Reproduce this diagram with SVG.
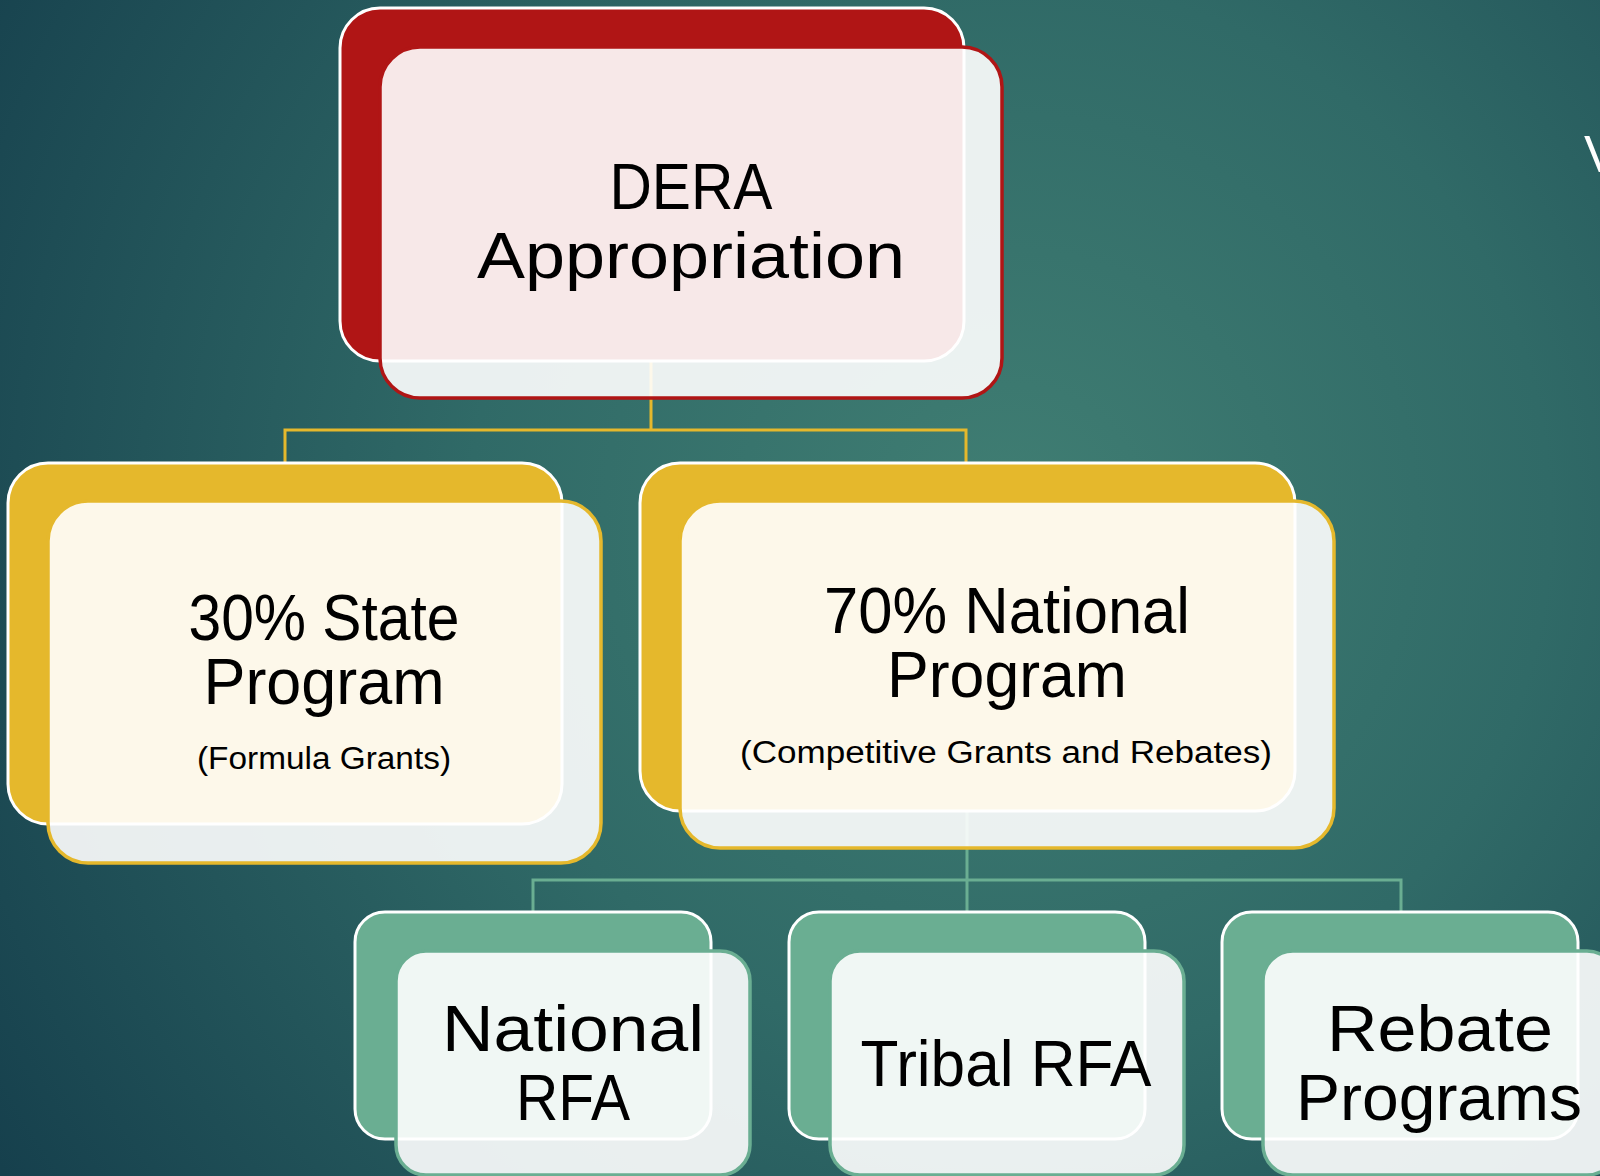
<svg xmlns="http://www.w3.org/2000/svg" width="1600" height="1176" viewBox="0 0 1600 1176">
<defs>
<radialGradient id="bg" gradientUnits="userSpaceOnUse" cx="1010" cy="520" r="1200">
<stop offset="0" stop-color="#407e73"/>
<stop offset="0.45" stop-color="#306a67"/>
<stop offset="1" stop-color="#16404d"/>
</radialGradient>
<style>
.back{stroke:#ffffff;stroke-width:3}
.front{fill:#ffffff;fill-opacity:0.9;stroke-width:3.5}
.red{fill:#b01515}
.yel{fill:#e5b82c}
.grn{fill:#6aae92}
.sred{stroke:#b01515}
.syel{stroke:#e5b82c}
.sgrn{stroke:#6aae92}
text{font-family:"Liberation Sans",Arial,sans-serif;fill:#000;text-anchor:middle}
.big{font-size:64px}
.small{font-size:31px}
.conn{fill:none;stroke-width:3}
</style>
</defs>
<rect x="0" y="0" width="1600" height="1176" fill="url(#bg)"/>
<text x="1584" y="172" style="font-size:52px;fill:#ffffff;text-anchor:start">V</text>

<g id="connectors">
<path class="conn" stroke="#e5b82c" d="M651 361 V430 M285 463 V430 H966 V463"/>
<path class="conn" stroke="#6aae92" d="M967 811 V880 M533 913 V880 H1401 V913 M967 880 V913"/>
</g>

<g id="dera">
<rect class="back red" x="340" y="8" width="624" height="353" rx="40"/>
<rect class="front sred" x="380" y="47" width="622" height="351" rx="40"/>
<text class="big" x="691" y="209" textLength="163" lengthAdjust="spacingAndGlyphs">DERA</text>
<text class="big" x="691" y="278" textLength="428" lengthAdjust="spacingAndGlyphs">Appropriation</text>
</g>

<g id="state">
<rect class="back yel" x="8" y="463" width="554" height="361" rx="40"/>
<rect class="front syel" x="48" y="501" width="553" height="362" rx="40"/>
<text class="big" x="324" y="640" textLength="271" lengthAdjust="spacingAndGlyphs">30% State</text>
<text class="big" x="324" y="704" textLength="241" lengthAdjust="spacingAndGlyphs">Program</text>
<text class="small" x="324" y="769" textLength="254" lengthAdjust="spacingAndGlyphs">(Formula Grants)</text>
</g>

<g id="national">
<rect class="back yel" x="640" y="463" width="655" height="348" rx="40"/>
<rect class="front syel" x="680" y="501" width="654" height="347" rx="40"/>
<text class="big" x="1007" y="633" textLength="366" lengthAdjust="spacingAndGlyphs">70% National</text>
<text class="big" x="1007" y="697" textLength="240" lengthAdjust="spacingAndGlyphs">Program</text>
<text class="small" x="1006" y="763" textLength="532" lengthAdjust="spacingAndGlyphs">(Competitive Grants and Rebates)</text>
</g>

<g id="national-rfa">
<rect class="back grn" x="355" y="912" width="356" height="227" rx="30"/>
<rect class="front sgrn" x="396" y="951" width="354" height="224" rx="30"/>
<text class="big" x="573" y="1051" textLength="262" lengthAdjust="spacingAndGlyphs">National</text>
<text class="big" x="573" y="1120" textLength="114" lengthAdjust="spacingAndGlyphs">RFA</text>
</g>

<g id="tribal-rfa">
<rect class="back grn" x="789" y="912" width="356" height="227" rx="30"/>
<rect class="front sgrn" x="830" y="951" width="354" height="224" rx="30"/>
<text class="big" x="1006" y="1086" textLength="291" lengthAdjust="spacingAndGlyphs">Tribal RFA</text>
</g>

<g id="rebate">
<rect class="back grn" x="1222" y="912" width="356" height="227" rx="30"/>
<rect class="front sgrn" x="1263" y="951" width="354" height="224" rx="30"/>
<text class="big" x="1440" y="1051" textLength="226" lengthAdjust="spacingAndGlyphs">Rebate</text>
<text class="big" x="1439" y="1120" textLength="286" lengthAdjust="spacingAndGlyphs">Programs</text>
</g>
</svg>
